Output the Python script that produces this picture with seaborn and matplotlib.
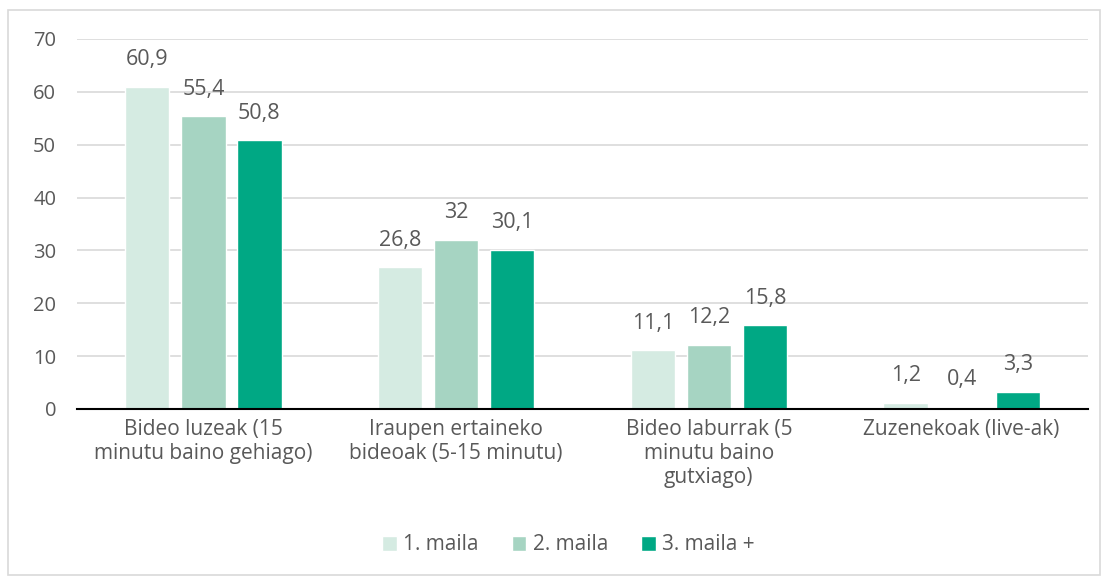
import pandas as pd
import matplotlib
matplotlib.use('Agg')
import matplotlib.pyplot as plt
import seaborn as sns
from matplotlib.patches import Rectangle

categories = [
    'Bideo luzeak (15\nminutu baino gehiago)',
    'Iraupen ertaineko\nbideoak (5-15 minutu)',
    'Bideo laburrak (5\nminutu baino\ngutxiago)',
    'Zuzenekoak (live-ak)',
]
levels = ['1. maila', '2. maila', '3. maila +']
maila1 = [60.9, 26.8, 11.1, 1.2]
maila2 = [55.4, 32.0, 12.2, 0.4]
maila3 = [50.8, 30.1, 15.8, 3.3]
colors = ['#d5ebe2', '#a6d4c2', '#00a884']

rows = []
for lvl, vals in zip(levels, [maila1, maila2, maila3]):
    for cat, v in zip(categories, vals):
        rows.append({'kategoria': cat, 'maila': lvl, 'balioa': v})
df = pd.DataFrame(rows)

sns.set_style('white')
plt.rcParams['font.family'] = ['Open Sans', 'DejaVu Sans']
text_color = '#595959'

fig = plt.figure(figsize=(11.08, 5.79), dpi=100)
ax = fig.add_axes([77 / 1108, 1 - 409 / 579, (1088 - 77) / 1108, (409 - 39) / 579])

sns.barplot(data=df, x='kategoria', y='balioa', hue='maila', palette=colors,
            saturation=1, width=0.665, gap=0.21, ax=ax, legend=True)

# etiketak koma hamartarrarekin
for cont in ax.containers:
    labels = [f'{v:g}'.replace('.', ',') for v in cont.datavalues]
    ax.bar_label(cont, labels=labels, padding=12, fontsize=15.5, color=text_color)

ax.set_ylim(0, 70)
ax.set_xlim(-0.5, 3.5)
ax.set_yticks(range(0, 80, 10))
ax.yaxis.grid(True, color='#d9d9d9', linewidth=1.2)
ax.set_axisbelow(True)
for s in ['top', 'right', 'left']:
    ax.spines[s].set_visible(False)
ax.spines['bottom'].set_color('black')
ax.spines['bottom'].set_linewidth(1.5)
ax.set_xlabel('')
ax.set_ylabel('')
ax.tick_params(axis='y', length=0, pad=15, labelsize=14.5, labelcolor=text_color)
ax.tick_params(axis='x', which='major', length=0, pad=7, labelsize=15, labelcolor=text_color)
ax.set_xticks([-0.5, 0.5, 1.5, 2.5, 3.5], minor=True)
ax.tick_params(axis='x', which='minor', length=7, width=1.5, color='black')

handles, lab = ax.get_legend_handles_labels()
ax.legend(handles, lab, loc='center', bbox_to_anchor=(0.486, (409 - 545) / (409 - 39)),
          ncol=3, frameon=False, fontsize=15, labelcolor=text_color,
          handlelength=0.7, handleheight=0.7, handletextpad=0.3, columnspacing=1.6)

fig.patches.append(Rectangle((8 / 1108, 4 / 579), 1092 / 1108, 565 / 579,
                             transform=fig.transFigure, fill=False,
                             edgecolor='#d9d9d9', linewidth=1.2))

fig.savefig('out.png', dpi=100)
